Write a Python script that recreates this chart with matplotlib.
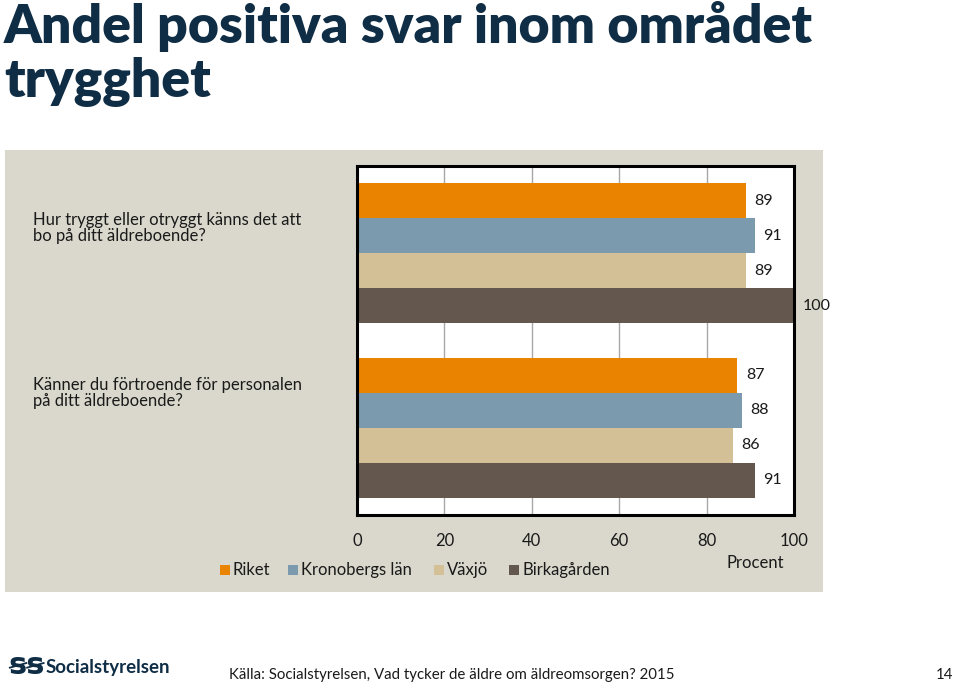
import matplotlib
matplotlib.use("Agg")
import matplotlib.pyplot as plt
from matplotlib.patches import Rectangle
import numpy as np

title = "Andel positiva svar inom området\ntrygghet"
questions = ["Hur tryggt eller otryggt känns det att\nbo på ditt äldreboende?",
             "Känner du förtroende för personalen\npå ditt äldreboende?"]
series_names = ["Riket", "Kronobergs län", "Växjö", "Birkagården"]
riket = [89, 87]
kronoberg = [91, 88]
vaxjo = [89, 86]
birkagarden = [100, 91]
xticks = [0, 20, 40, 60, 80, 100]
xlabel = "Procent"
source = "Källa: Socialstyrelsen, Vad tycker de äldre om äldreomsorgen? 2015"
page = "14"

colors = ["#E98300", "#7B9AAE", "#D3C096", "#64574D"]
panel_color = "#DAD8CC"
navy = "#0F2D45"
font = "Lato"

W, H = 959, 688
fig = plt.figure(figsize=(W / 100, H / 100), dpi=100)
fig.patch.set_facecolor("white")

def fx(px):
    return px / W

def fy(py):
    return 1 - py / H

# panel background
fig.patches.append(Rectangle((fx(5), fy(592)), fx(823) - fx(5), fy(150) - fy(592),
                             transform=fig.transFigure, facecolor=panel_color,
                             edgecolor="none", zorder=-1))

ax = fig.add_axes([fx(357), fy(515), fx(794) - fx(357), fy(166) - fy(515)])
ax.set_zorder(2)
ax.set_facecolor("white")
data = [riket, kronoberg, vaxjo, birkagarden]
n = len(series_names)
h = 0.2
y = np.arange(len(questions))
for i, (vals, c, name) in enumerate(zip(data, colors, series_names)):
    pos = y + (i - (n - 1) / 2) * h
    ax.barh(pos, vals, height=h, color=c, label=name, zorder=2)
    for p, v in zip(pos, vals):
        ax.text(v + 2, p, f"{v}", va="center", ha="left", fontsize=11.5,
                family=font, color="#1a1a1a", zorder=3, clip_on=False)

ax.set_xlim(0, 100)
ax.set_ylim(1.5, -0.5)
ax.set_xticks(xticks)
ax.set_xticklabels([str(t) for t in xticks], family=font, fontsize=12, color="#1a1a1a")
ax.tick_params(axis="x", length=0, pad=13)
ax.set_yticks([])
ax.grid(axis="x", color="#A8A8A8", linewidth=1, zorder=1)
for s in ax.spines.values():
    s.set_color("black")
    s.set_linewidth(2.2)

# question labels
for q, qy in zip(questions, [228, 393]):
    fig.text(fx(33), fy(qy), q, family=font, fontsize=12, color="#1a1a1a",
             va="center", ha="left", linespacing=1.05)

fig.text(fx(755), fy(563), xlabel, family=font, fontsize=12, color="#1a1a1a",
         ha="center", va="center")

# legend
leg_items = [(220, "Riket"), (288, "Kronobergs län"), (434, "Växjö"), (509, "Birkagården")]
for (lx, name), c in zip(leg_items, colors):
    fig.patches.append(Rectangle((fx(lx), fy(575)), fx(10) - fx(0), fy(0) - fy(10),
                                 transform=fig.transFigure, facecolor=c, edgecolor="none"))
    fig.text(fx(lx + 13), fy(570), name, family=font, fontsize=12, color="#1a1a1a",
             ha="left", va="center")

# title
fig.text(fx(4), fy(1), title, family=font, fontweight="heavy", fontsize=38.5,
         color=navy, ha="left", va="top", linespacing=1.12)

# footer
fig.text(fx(8), fy(666), "ꞩꞩ", family="DejaVu Sans", fontsize=22, fontweight="bold",
         color=navy, ha="left", va="center")
fig.text(fx(46), fy(668), "Socialstyrelsen", family=font,
         fontweight="bold", fontsize=13.5, color=navy, ha="left", va="center")
fig.text(fx(229), fy(675), source, family=font, fontsize=10.8, color="#1a1a1a",
         ha="left", va="center")
fig.text(fx(953), fy(675), page, family=font, fontsize=10.8, color="#1a1a1a",
         ha="right", va="center")

fig.savefig("out.png", dpi=100, facecolor="white")
